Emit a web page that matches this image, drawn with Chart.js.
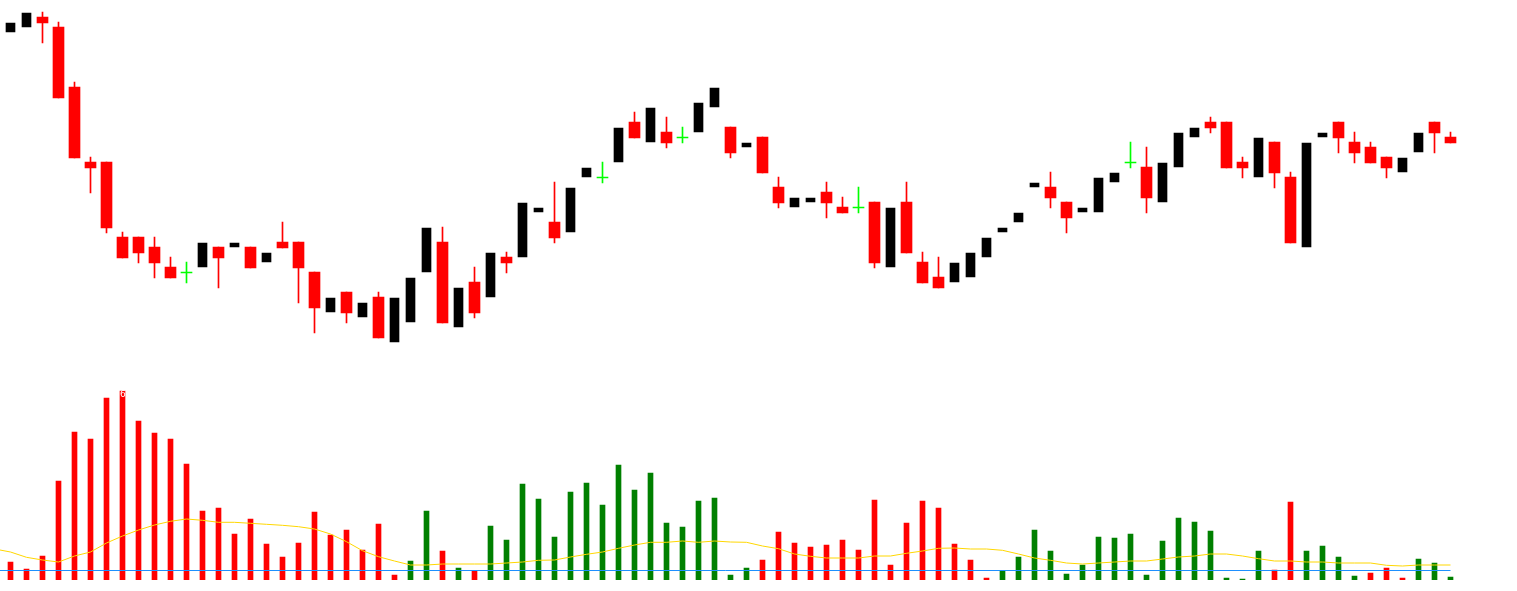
<!DOCTYPE html>
<html><head><meta charset="utf-8">
<script src="https://cdn.jsdelivr.net/npm/chart.js@4.4.1/dist/chart.umd.min.js"></script>
<style>
html,body{margin:0;padding:0;background:#fff;width:1517px;height:591px;overflow:hidden;}
#pw{position:absolute;left:0;top:0;width:1517px;height:350px;}
#vw{position:absolute;left:0;top:380px;width:1517px;height:211px;}
</style></head><body>
<div id="pw"><canvas id="price"></canvas></div>
<div id="vw"><canvas id="vol"></canvas></div>
<script>
// ---- data (price units) ----
const opens  = [368,373,383,373,313,238,238,163,163,153,133,128,133,153,153,153,138,158,158,128,88,108,83,103,58,78,128,158,73,118,103,143,143,188,178,168,223,223,238,278,258,268,263,268,293,273,253,263,213,193,198,208,193,193,198,133,198,138,123,118,123,143,168,178,213,213,198,188,188,218,238,233,198,233,263,278,278,238,223,258,223,153,263,278,258,253,243,228,248,278,263];
const highs  = [377,387,388,378,318,243,238,168,163,163,143,138,157,153,157,153,147,178,158,128,102,108,97,108,102,122,172,173,112,133,147,148,197,192,218,212,232,238,272,288,292,283,273,297,312,273,257,263,223,202,202,218,203,213,198,192,218,148,143,137,147,162,172,187,217,228,198,192,222,227,258,253,237,267,272,283,278,243,262,258,228,257,267,278,268,258,243,242,267,278,268];
const lows   = [368,373,357,302,242,207,167,142,137,122,122,117,133,112,153,132,138,152,97,67,88,77,83,62,58,78,128,77,73,82,103,127,143,188,157,168,223,217,238,262,258,252,257,268,293,242,253,227,192,193,198,182,187,187,132,133,147,117,112,118,123,143,168,178,213,192,167,188,188,218,232,187,198,233,263,267,232,222,223,212,157,153,263,247,237,237,222,228,248,247,257];
const closes = [377,387,377,302,242,232,172,142,147,137,122,128,157,142,157,132,147,152,132,92,102,87,97,62,102,122,172,77,112,87,147,137,197,192,162,212,232,223,272,262,292,257,263,297,312,247,257,227,197,202,202,197,187,193,137,192,147,117,112,137,147,162,172,187,217,202,182,192,222,227,238,202,237,267,272,272,232,232,262,227,157,257,267,262,247,237,232,242,267,267,257];

// ---- volume panel ----
const volumes = [180,110,240,990,1480,1410,1820,1890,1590,1470,1410,1160,690,720,460,610,360,230,370,680,450,500,300,560,50,190,690,290,120,90,540,400,960,810,430,880,970,750,1150,900,1070,570,530,790,820,50,120,200,480,370,330,350,400,300,800,150,570,790,720,360,200,20,90,230,500,290,60,150,430,420,460,50,390,620,580,490,20,0,290,100,780,290,340,230,40,70,120,20,210,170,30];
const volUp = ['d','d','d','d','d','d','d','d','d','d','d','d','d','d','d','d','d','d','d','d','d','d','d','d','d','u','u','d','u','d','u','u','u','u','u','u','u','u','u','u','u','u','u','u','u','u','u','d','d','d','d','d','d','d','d','d','d','d','d','d','d','d','u','u','u','u','u','u','u','u','u','u','u','u','u','u','u','u','u','d','d','u','u','u','u','d','d','d','u','u','u'];
const volMA = [280,227,200,180,240,280,370,440,500,550,587,610,597,577,577,567,557,547,533,510,460,383,293,233,190,150,150,160,160,160,160,170,180,197,200,230,257,280,317,350,377,377,390,377,390,380,377,340,313,260,237,220,220,220,240,240,267,290,317,320,310,310,297,260,220,197,170,160,170,180,190,190,210,230,240,260,260,240,213,190,190,180,180,170,170,170,147,140,150,150,150];
const volMAStart = 300;   // MA value read at the left edge
const volLevel = 95;      // blue level line
const volLabel = '6';

const N = opens.length;
const labels = opens.map((_, i) => String(i));
const xStart = -0.65625;

function kind(i){ return closes[i] > opens[i] ? 'up' : (closes[i] < opens[i] ? 'down' : 'doji'); }

const blackBodies = [], redBodies = [], redWicks = [], dojiBodies = [], dojiWicks = [];
for (let i = 0; i < N; i++) {
  const k = kind(i);
  blackBodies.push(k === 'up' ? [opens[i], closes[i]] : null);
  redBodies.push(k === 'down' ? [closes[i], opens[i]] : null);
  redWicks.push(k === 'down' && highs[i] > lows[i] ? [lows[i], highs[i]] : null);
  dojiBodies.push(k === 'doji' ? [closes[i] - 1, closes[i]] : null);
  dojiWicks.push(k === 'doji' ? [lows[i], highs[i]] : null);
}

const pad = {left: 2.5, right: 58.5, top: 0, bottom: 0};

new Chart(document.getElementById('price'), {
  type: 'bar',
  data: {
    labels,
    datasets: [
      {data: redWicks, backgroundColor: '#ff0000', barThickness: 1, grouped: false},
      {data: dojiWicks, backgroundColor: '#00ff00', barThickness: 1, grouped: false},
      {data: redBodies, backgroundColor: '#ff0000', barThickness: 11, grouped: false},
      {data: blackBodies, backgroundColor: '#000000', barThickness: 9, grouped: false},
      {data: dojiBodies, backgroundColor: '#00ff00', barThickness: 11, grouped: false}
    ]
  },
  options: {
    responsive: true, maintainAspectRatio: false, animation: false,
    layout: {padding: pad},
    plugins: {legend: {display: false}, tooltip: {enabled: false}},
    scales: {
      x: {display: false},
      y: {display: false, min: 50, max: 400}
    }
  }
});

const upVol = volumes.map((v, i) => volUp[i] === 'u' ? v : null);
const dnVol = volumes.map((v, i) => volUp[i] === 'd' ? v : null);
const maPts = [{x: xStart, y: volMAStart}].concat(volMA.map((v, i) => ({x: i, y: v})));
const lvlPts = [{x: xStart, y: volLevel}, {x: N - 1, y: volLevel}];

const labelPlugin = {
  id: 'volLabel',
  afterDatasetsDraw(chart) {
    const ctx = chart.ctx;
    const xs = chart.scales.x, ys = chart.scales.y;
    ctx.save();
    ctx.fillStyle = '#ffffff';
    ctx.font = '9px "DejaVu Sans"';
    ctx.textBaseline = 'top';
    ctx.fillText(volLabel, xs.getPixelForValue(7) - 2.5, ys.getPixelForValue(1890) - 1);
    ctx.restore();
  }
};

new Chart(document.getElementById('vol'), {
  type: 'bar',
  data: {
    labels,
    datasets: [
      {type: 'line', data: maPts, xAxisID: 'xl', borderColor: '#ffd700', borderWidth: 1, pointRadius: 0, fill: false, tension: 0, clip: false, order: 0},
      {type: 'line', data: lvlPts, xAxisID: 'xl', borderColor: '#1e90ff', borderWidth: 1, pointRadius: 0, fill: false, clip: false, order: 1},
      {data: dnVol, backgroundColor: '#ff0000', barThickness: 5, grouped: false, order: 2},
      {data: upVol, backgroundColor: '#008000', barThickness: 5, grouped: false, minBarLength: 1, order: 2}
    ]
  },
  options: {
    responsive: true, maintainAspectRatio: false, animation: false,
    layout: {padding: {left: 2.5, right: 58.5, top: 0, bottom: 11}},
    plugins: {legend: {display: false}, tooltip: {enabled: false}},
    scales: {
      x: {display: false},
      xl: {type: 'linear', display: false, offset: false, grace: 0, bounds: 'data', min: -0.5, max: N - 0.5},
      y: {display: false, min: 0, max: 2000}
    }
  },
  plugins: [labelPlugin]
});
</script>
</body></html>
